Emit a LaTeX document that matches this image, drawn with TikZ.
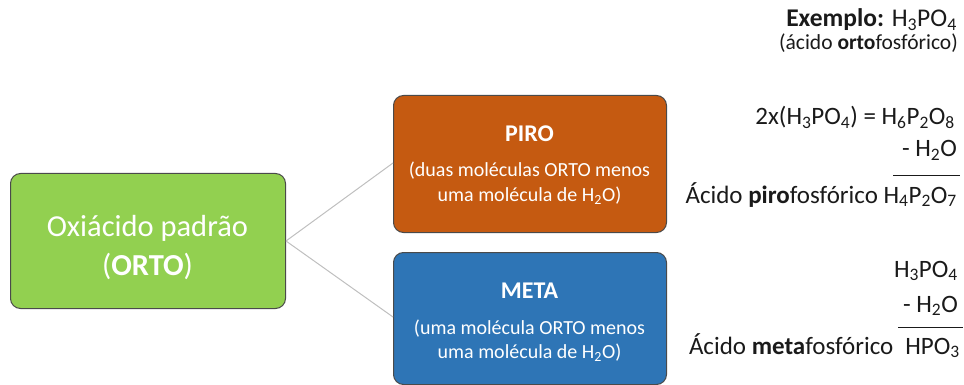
\documentclass[tikz,border=0pt]{standalone}
\usepackage{fontspec}
\setmainfont{Carlito}
\newcommand{\ch}[1]{\textsubscript{#1}}
\definecolor{gbox}{HTML}{92D050}
\definecolor{obox}{HTML}{C55A11}
\definecolor{bbox}{HTML}{2E75B6}
\definecolor{edge}{HTML}{4A4A4A}
\definecolor{conn}{HTML}{BFBFBF}
\definecolor{txt}{HTML}{1A1A1A}
\begin{document}
\begin{tikzpicture}[x=1pt,y=-1pt,
  boxst/.style={draw=edge,line width=1pt,rounded corners=10pt,anchor=north west,inner sep=0pt},
  wt/.style={anchor=base,inner sep=0pt,text=white},
  conline/.style={draw=conn,line width=1pt},
  rt/.style={anchor=base east,inner sep=0pt,text=txt},
  big/.style={font=\fontsize{25}{30}\selectfont},
  desc/.style={font=\fontsize{20}{24}\selectfont}]
\useasboundingbox (0,0) rectangle (964,385);
% boxes
\node[boxst,fill=gbox,minimum width=275pt,minimum height=135pt] (orto) at (10,173) {};
\node[boxst,fill=obox,minimum width=273pt,minimum height=137pt] (piro) at (393,95) {};
\node[boxst,fill=bbox,minimum width=273pt,minimum height=132pt] (meta) at (393,252) {};
% box texts
\node[wt,font=\fontsize{30.5}{36}\selectfont] (o1) at (147.5,236) {Oxiácido padrão};
\node[wt,font=\fontsize{30.5}{36}\selectfont] (o2) at (147.5,275) {(\textbf{ORTO})};
\node[wt,font=\fontsize{24}{28}\selectfont] (pt) at (529.5,142) {\textbf{PIRO}};
\node[wt,desc] (pd1) at (529.5,177) {(duas moléculas ORTO menos};
\node[wt,desc] (pd2) at (529.5,201) {uma molécula de H\ch{2}O)};
\node[wt,font=\fontsize{24}{28}\selectfont] (mt) at (529.5,298) {\textbf{META}};
\node[wt,desc] (md1) at (529.5,334) {(uma molécula ORTO menos};
\node[wt,desc] (md2) at (529.5,358) {uma molécula de H\ch{2}O)};
% connectors
\coordinate (pin) at (393,163);
\coordinate (min) at (393,317);
\draw[conline] (orto.east) -- (pin);
\draw[conline] (orto.east) -- (min);
% right side
\node[rt,font=\fontsize{25.5}{30}\selectfont] (ex) at (957,27) {\textbf{Exemplo:} H\ch{3}PO\ch{4}};
\node[rt,font=\fontsize{21.5}{24}\selectfont] (exn) at (958,50) {(ácido \textbf{orto}fosfórico)};
\node[rt,big] (p1) at (955,125) {2x(H\ch{3}PO\ch{4}) = H\ch{6}P\ch{2}O\ch{8}};
\node[rt,big] (p2) at (957,157) {- H\ch{2}O};
\coordinate (pl1) at (893,176);
\coordinate (pl2) at (960,176);
\draw[line width=1pt,txt] (pl1) -- (pl2);
\node[rt,big] (p3) at (957,203) {Ácido \textbf{piro}fosfórico H\ch{4}P\ch{2}O\ch{7}};
\node[rt,big] (m1) at (958,277) {H\ch{3}PO\ch{4}};
\node[rt,big] (m2) at (958,312) {- H\ch{2}O};
\coordinate (ml1) at (898,327);
\coordinate (ml2) at (963,327);
\draw[line width=1pt,txt] (ml1) -- (ml2);
\node[rt,big] (m3) at (960,354) {Ácido \textbf{meta}fosfórico\hspace{12pt}HPO\ch{3}};
\end{tikzpicture}
\end{document}
